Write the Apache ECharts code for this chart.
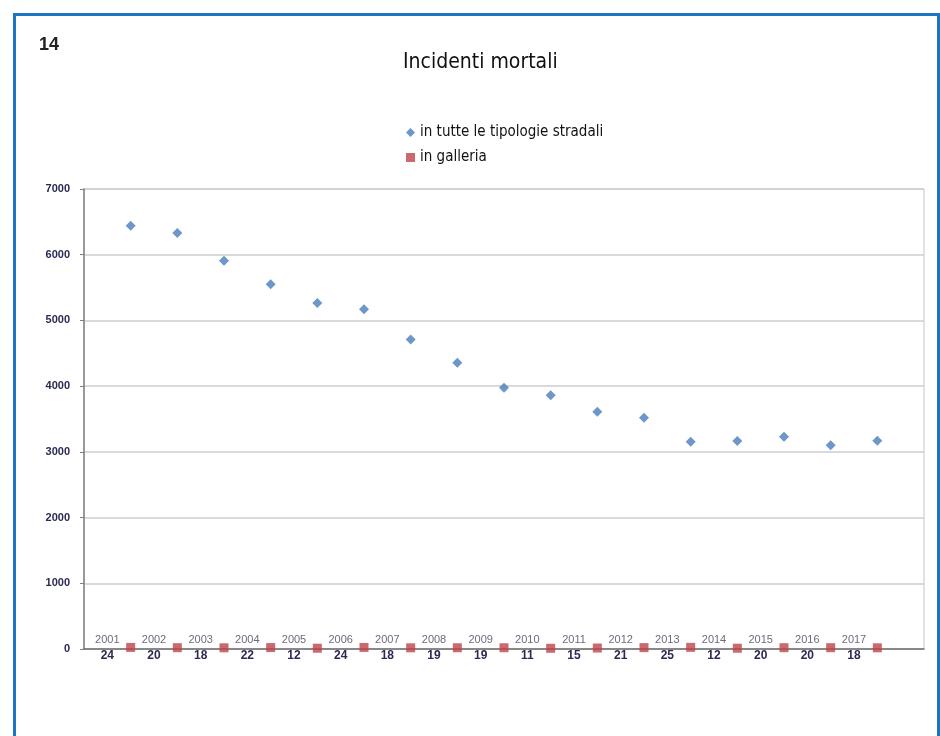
<!DOCTYPE html>
<html>
<head>
<meta charset="utf-8">
<script src="https://cdn.jsdelivr.net/npm/echarts@6/dist/echarts.min.js"></script>
<style>
html,body{margin:0;padding:0;background:#fff;}
#chart{width:940px;height:736px;}
</style>
</head>
<body>
<div id="chart"></div>
<script>
// Data
var years = [2001,2002,2003,2004,2005,2006,2007,2008,2009,2010,2011,2012,2013,2014,2015,2016,2017];
var tutteTipologie = [6440,6330,5910,5550,5265,5170,4710,4355,3975,3860,3610,3520,3155,3165,3230,3100,3170];
var galleria = [24,20,18,22,12,24,18,19,19,11,15,21,25,12,20,20,18];
var yTicks = [0,1000,2000,3000,4000,5000,6000,7000];

var chart = echarts.init(document.getElementById('chart'), null, {renderer:'canvas'});
var narrow = "'Liberation Sans Narrow','DejaVu Sans Condensed','Liberation Sans',sans-serif";

var labelCats = years.map(function(y){return String(y);}).concat(['']);
var labelVals = galleria.concat(['']);

var option = {
  backgroundColor:'#fff',
  animation:false,
  title:[
    {text:'14', left:34, top:31, textStyle:{fontFamily:"'Liberation Sans',Arial,sans-serif", fontWeight:'bold', fontSize:18, color:'#222'}},
    {text:'Incidenti mortali', left:398, top:47, textStyle:{fontFamily:narrow, fontWeight:'normal', fontSize:21, color:'#111'}}
  ],
  legend:{
    orient:'vertical', left:401, top:120, itemGap:10, itemWidth:9, itemHeight:9,
    textStyle:{fontFamily:narrow, fontSize:15, color:'#111'},
    data:[{name:'in tutte le tipologie stradali', icon:'diamond'},{name:'in galleria', icon:'rect'}]
  },
  graphic:[
    {type:'rect', silent:true, z:100, shape:{x:14.5, y:14.5, width:924, height:800}, style:{fill:'none', stroke:'#1a76c0', lineWidth:3}}
  ],
  grid:{left:84, right:16, top:189, bottom:87, show:true, borderColor:'#c4c4c4', borderWidth:1, backgroundColor:'#fff'},
  xAxis:[
    {type:'value', min:2000, max:2018, interval:1, position:'bottom',
     axisLine:{show:true, onZero:false, lineStyle:{color:'#707070', width:1.5}},
     axisTick:{show:false}, axisLabel:{show:false}, splitLine:{show:false}},
    {type:'category', data:labelCats, boundaryGap:true, position:'bottom',
     axisLine:{show:false}, axisTick:{show:false}, splitLine:{show:false},
     axisLabel:{interval:0, margin:-16,
       formatter:function(v, i){ return v ? '{y|'+v+'}\n{v|'+labelVals[i]+'}' : ''; },
       rich:{
         y:{fontFamily:"'Liberation Sans',Arial,sans-serif", fontSize:11, color:'#6b6b80', lineHeight:14, align:'center'},
         v:{fontFamily:"'Liberation Sans',Arial,sans-serif", fontSize:12, fontWeight:'bold', color:'#2a2a55', lineHeight:18, align:'center'}
       }}}
  ],
  yAxis:{type:'value', min:0, max:7000, interval:1000,
    axisLine:{show:true, lineStyle:{color:'#808080', width:1.5}},
    axisTick:{show:true, length:4, lineStyle:{color:'#808080'}},
    axisLabel:{margin:14, fontFamily:"'Liberation Sans',Arial,sans-serif", fontSize:11, fontWeight:'bold', color:'#2a2a55',
      formatter:function(v){ return String(v); }},
    splitLine:{show:true, lineStyle:{color:'#cdcdcd', width:1.5}}
  },
  series:[
    {name:'in tutte le tipologie stradali', type:'scatter', xAxisIndex:0, symbol:'diamond', symbolSize:10,
     itemStyle:{color:'#4a7dbb'},
     data:years.map(function(y,i){return [y, tutteTipologie[i]];})},
    {name:'in galleria', type:'scatter', xAxisIndex:0, symbol:'rect', symbolSize:9,
     itemStyle:{color:'#be4349'}, z:5,
     data:years.map(function(y,i){return [y, galleria[i]];})}
  ]
};
chart.setOption(option);
</script>
</body>
</html>
